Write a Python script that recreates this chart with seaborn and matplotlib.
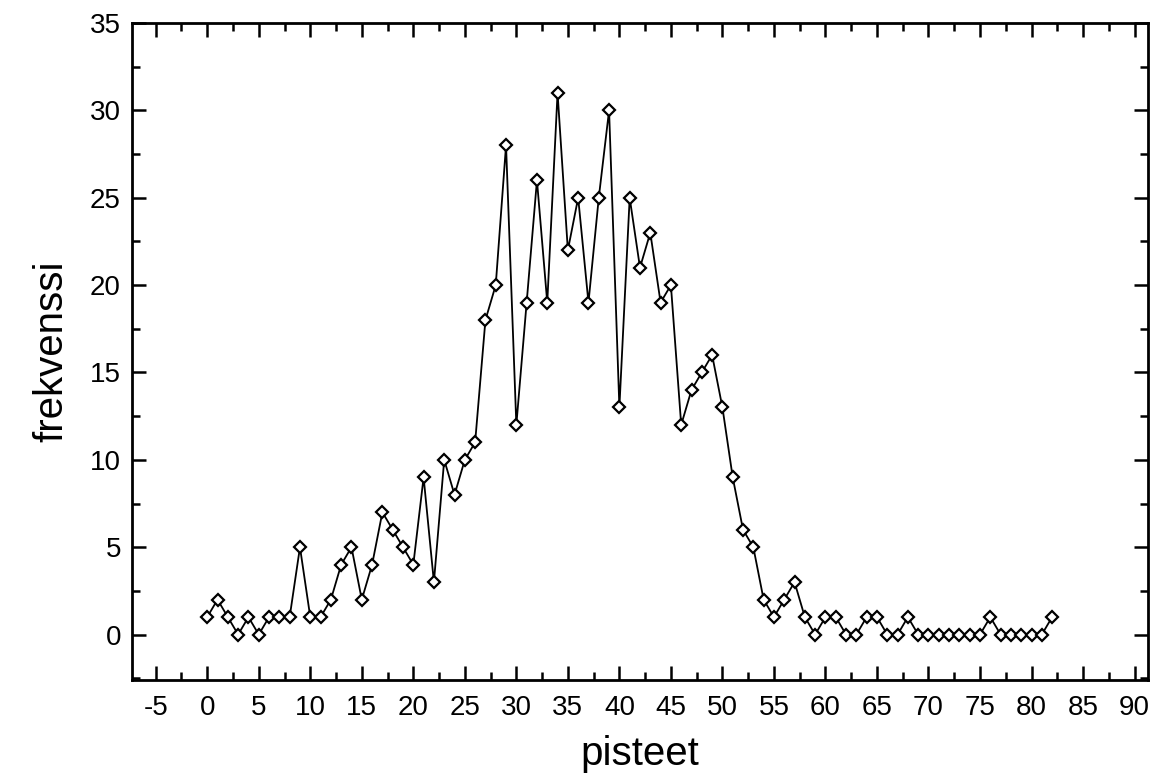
import numpy as np
import pandas as pd
import matplotlib
matplotlib.use("Agg")
import matplotlib.pyplot as plt
from matplotlib.ticker import MultipleLocator
import seaborn as sns

pisteet = list(range(0, 83))
frekvenssi = [1, 2, 1, 0, 1, 0, 1, 1, 1, 5,
              1, 1, 2, 4, 5, 2, 4, 7, 6, 5,
              4, 9, 3, 10, 8, 10, 11, 18, 20, 28,
              12, 19, 26, 19, 31, 22, 25, 19, 25, 30,
              13, 25, 21, 23, 19, 20, 12, 14, 15, 16,
              13, 9, 6, 5, 2, 1, 2, 3, 1, 0,
              1, 1, 0, 0, 1, 1, 0, 0, 1, 0,
              0, 0, 0, 0, 0, 0, 1, 0, 0, 0,
              0, 0, 1]
x_ticks = list(range(-5, 95, 5))
y_ticks = list(range(0, 40, 5))

df = pd.DataFrame({"pisteet": pisteet, "frekvenssi": frekvenssi})

sns.set_theme(style="ticks")
plt.rcParams["font.family"] = ["Liberation Sans", "DejaVu Sans"]
plt.rcParams["axes.unicode_minus"] = False

fig = plt.figure(figsize=(11.55, 7.78), dpi=100)
ax = fig.add_axes([0.1143, 0.126, 0.8796, 0.8444])

sns.lineplot(data=df, x="pisteet", y="frekvenssi", ax=ax, color="black",
             linewidth=1.3, marker="D", markersize=6.5,
             markerfacecolor="white", markeredgecolor="black",
             markeredgewidth=1.6)

ax.set_xlim(-7.3, 91.3)
ax.set_ylim(-2.6, 35)
ax.set_xticks(x_ticks)
ax.set_yticks(y_ticks)
ax.xaxis.set_minor_locator(MultipleLocator(2.5))
ax.yaxis.set_minor_locator(MultipleLocator(2.5))
ax.tick_params(which="both", direction="in", top=True, right=True,
               color="black", labelsize=20, labelcolor="black")
ax.tick_params(which="major", length=10, width=1.8)
ax.tick_params(which="minor", length=5.5, width=1.8)
ax.tick_params(axis="x", which="major", pad=11)
ax.tick_params(axis="y", which="major", pad=8)
for s in ax.spines.values():
    s.set_visible(True)
    s.set_linewidth(2.0)
    s.set_color("black")

ax.set_xlabel("pisteet", fontsize=29, labelpad=10, color="black")
ax.set_ylabel("frekvenssi", fontsize=29, labelpad=14, color="black")
ax.grid(False)

fig.savefig("out.png", dpi=100)
